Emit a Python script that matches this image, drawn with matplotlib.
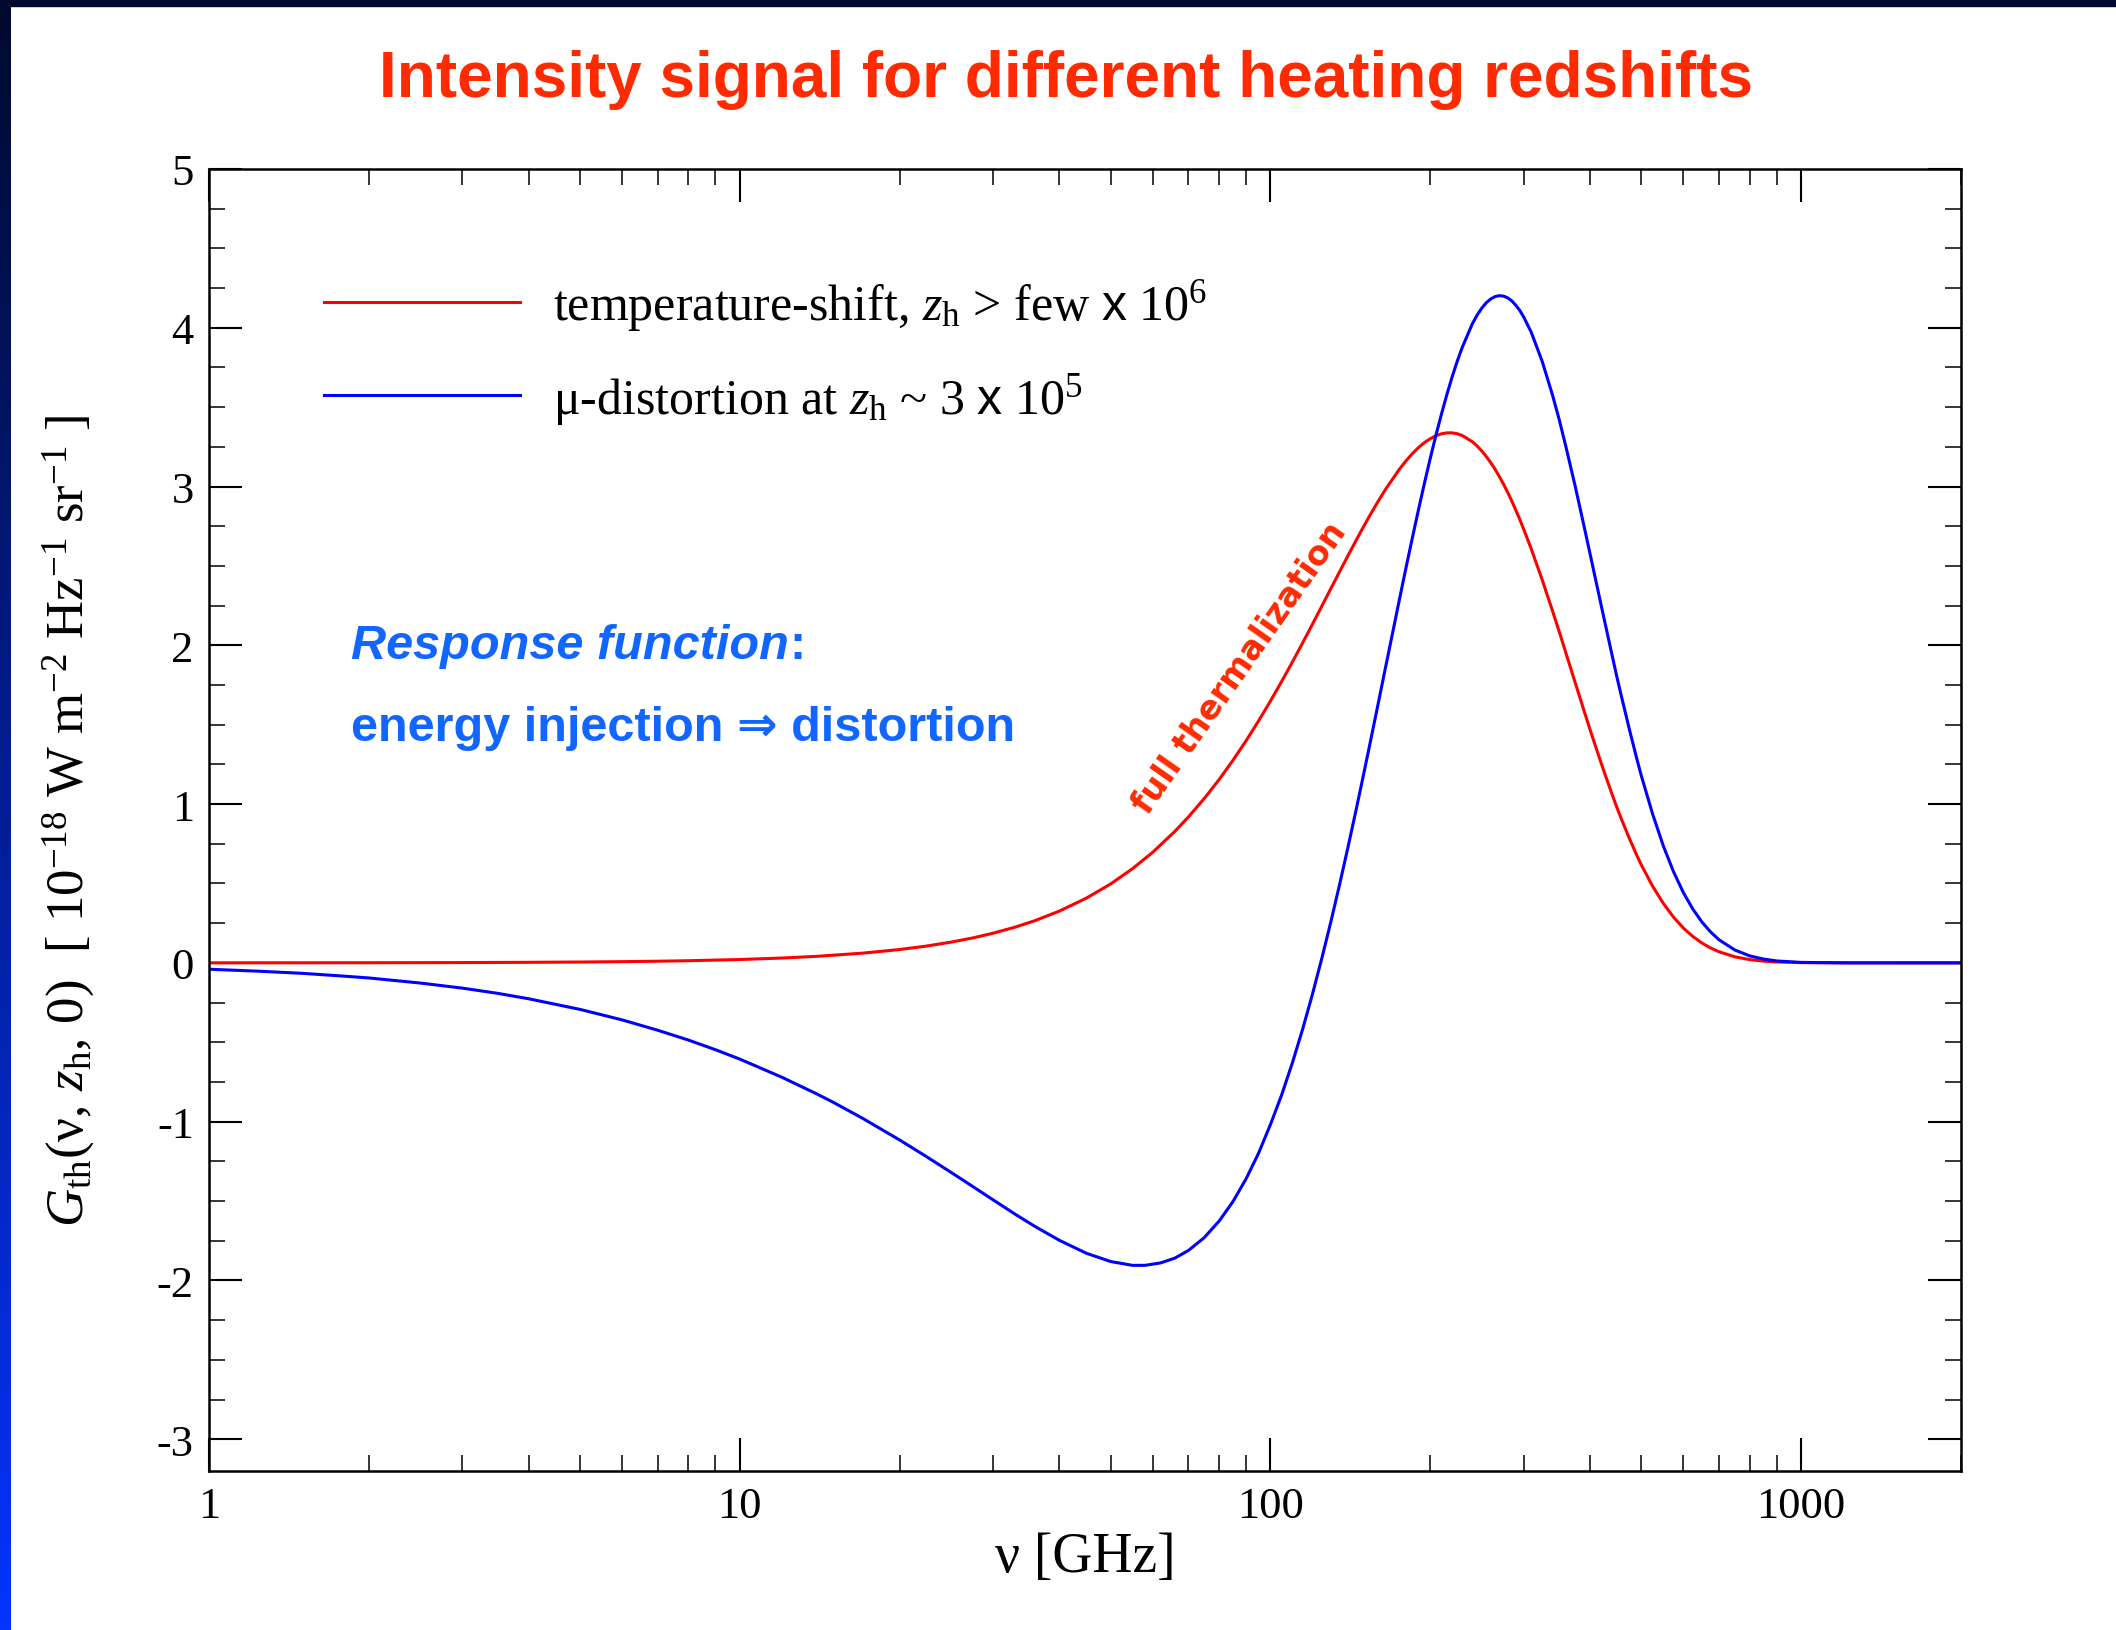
import numpy as np
import matplotlib.pyplot as plt
from matplotlib.ticker import LogLocator, MultipleLocator, NullFormatter
from matplotlib.colors import LinearSegmentedColormap

# FONTS
plt.rcParams['font.family'] = ['Liberation Serif', 'DejaVu Serif']
plt.rcParams['mathtext.fontset'] = 'custom'
plt.rcParams['mathtext.rm'] = 'Liberation Serif'
plt.rcParams['mathtext.it'] = 'Liberation Serif:italic'
plt.rcParams['mathtext.sf'] = 'Liberation Sans'

# DATA
freq_temp = [1, 2, 3, 4, 5, 6, 7, 8, 10, 12, 14, 17, 20, 22.5, 25, 27.5, 30, 33, 36, 40,
             45, 50, 55, 60, 66, 70, 75, 80, 85, 90, 95, 100, 105, 110, 115, 120, 125,
             130, 135, 140, 145, 150, 155, 160, 165, 170, 175, 180, 185, 190, 195, 200,
             205, 210, 215, 220, 225, 230, 240, 245, 250, 255, 260, 265, 270, 275, 280,
             285, 290, 295, 300, 310, 325, 340, 350, 360, 375, 390, 400, 410, 425, 440,
             450, 460, 475, 490, 500, 525, 550, 575, 600, 625, 650, 675, 700, 750, 800,
             850, 900, 1000, 1200, 1500, 2000]
g_temp = [0.0002, 0.0008, 0.0019, 0.0034, 0.0053, 0.0076, 0.0104, 0.0136, 0.0211, 0.0304,
          0.0414, 0.0609, 0.084, 0.106, 0.1305, 0.1573, 0.1866, 0.2247, 0.2659, 0.3258,
          0.4078, 0.4973, 0.594, 0.6965, 0.827, 0.9176, 1.0343, 1.1537, 1.2761, 1.3996,
          1.5243, 1.649, 1.7727, 1.8951, 2.0154, 2.1329, 2.2473, 2.3577, 2.4637, 2.5649,
          2.6604, 2.7512, 2.8355, 2.9132, 2.9855, 3.0481, 3.1094, 3.1613, 3.2063, 3.2447,
          3.2763, 3.301, 3.3198, 3.3319, 3.3379, 3.3379, 3.3321, 3.3208, 3.2822, 3.2561,
          3.2248, 3.190, 3.151, 3.1085, 3.0625, 3.0141, 2.9621, 2.9079, 2.8507, 2.7928,
          2.7319, 2.6079, 2.414, 2.2171, 2.087, 1.9563, 1.767, 1.5864, 1.471, 1.362,
          1.207, 1.0642, 0.975, 0.8938, 0.781, 0.6781, 0.616, 0.4826, 0.374, 0.2873,
          0.219, 0.1662, 0.1253, 0.0938, 0.070, 0.0382, 0.0205, 0.0108, 0.0056, 0.0015,
          0.0001, 0.0, 0.0]

freq_mu = [1, 1.25, 1.5, 1.75, 2, 2.5, 3, 3.5, 4, 5, 6, 7, 8, 9, 10, 12, 14, 15, 17, 20,
           22.5, 25, 27.5, 30, 33, 36, 40, 45, 50, 55, 58, 62, 66, 70, 75, 80, 85, 90, 95,
           100, 105, 110, 115, 120, 125, 130, 135, 140, 145, 150, 155, 160, 165, 170, 175,
           180, 185, 190, 195, 200, 205, 210, 215, 220, 225, 230, 240, 245, 250, 255, 260,
           265, 270, 275, 280, 285, 290, 295, 300, 310, 325, 340, 350, 360, 375, 390, 400,
           410, 425, 440, 450, 460, 475, 490, 500, 525, 550, 575, 600, 625, 650, 675, 700,
           750, 800, 850, 900, 1000, 1200, 1500, 2000]
g_mu = [-0.040, -0.053, -0.066, -0.081, -0.095, -0.127, -0.159, -0.192, -0.226, -0.293,
        -0.359, -0.424, -0.486, -0.547, -0.606, -0.720, -0.827, -0.878, -0.977, -1.115,
        -1.221, -1.319, -1.409, -1.492, -1.582, -1.660, -1.747, -1.829, -1.881, -1.905,
        -1.905, -1.890, -1.860, -1.812, -1.731, -1.627, -1.503, -1.359, -1.198, -1.018,
        -0.831, -0.629, -0.417, -0.197, 0.030, 0.260, 0.494, 0.729, 0.963, 1.196,
        1.426, 1.651, 1.871, 2.082, 2.289, 2.486, 2.673, 2.851, 3.019, 3.176,
        3.322, 3.456, 3.579, 3.691, 3.791, 3.879, 4.023, 4.078, 4.122, 4.157,
        4.181, 4.196, 4.202, 4.199, 4.188, 4.169, 4.141, 4.109, 4.068, 3.972,
        3.790, 3.576, 3.422, 3.257, 3.005, 2.748, 2.579, 2.413, 2.172, 1.942,
        1.795, 1.659, 1.466, 1.287, 1.177, 0.937, 0.736, 0.573, 0.442, 0.339,
        0.258, 0.195, 0.146, 0.081, 0.044, 0.024, 0.012, 0.003, 0.0002, 0.0, 0.0]

xticks = [1, 10, 100, 1000]
xticklabels = ['1', '10', '100', '1000']
yticks = [-3, -2, -1, 0, 1, 2, 3, 4, 5]
yticklabels = ['-3', '-2', '-1', '0', '1', '2', '3', '4', '5']

label_temp = r'temperature-shift, $z_{\rm h}$ > few $\mathsf{x}$ $10^{6}$'
label_mu = r'μ-distortion at $z_{\rm h}$ ~ 3 $\mathsf{x}$ $10^{5}$'

# FIGURE + SLIDE DECORATION
fig = plt.figure(figsize=(21.16, 16.31), dpi=100)
fig.patch.set_facecolor('white')
fig.add_artist(plt.Rectangle((0, 1 - 7/1631), 1, 7/1631, transform=fig.transFigure,
                             color='#000a2e', zorder=0))
gax = fig.add_axes([0, 0, 11/2116, 1 - 7/1631])
cmap = LinearSegmentedColormap.from_list('slide', ['#000a2e', '#0533ff'])
gax.imshow(np.linspace(0, 1, 256).reshape(-1, 1), aspect='auto', cmap=cmap)
gax.axis('off')

# MAIN PLOT
ax = fig.add_axes([0.0988, 0.0975, 0.8279, 0.7983])
ax.plot(freq_temp, g_temp, color='#ff0000', lw=2.2, label=label_temp)
ax.plot(freq_mu, g_mu, color='#0000ff', lw=2.2, label=label_mu)
ax.set_xscale('log')
ax.set_xlim(1, 2000)
ax.set_ylim(-3.2, 5)

ax.set_xticks(xticks, xticklabels)
ax.xaxis.set_minor_locator(LogLocator(base=10, subs=range(2, 10), numticks=20))
ax.xaxis.set_minor_formatter(NullFormatter())
ax.set_yticks(yticks, yticklabels)
ax.yaxis.set_minor_locator(MultipleLocator(0.25))
ax.tick_params(which='both', direction='in', top=True, right=True, labelsize=32)
ax.tick_params(which='major', length=23.8, width=1.5, pad=11)
ax.tick_params(which='minor', length=11.5, width=1.1)
for s in ax.spines.values():
    s.set_linewidth(1.8)

ax.set_xlabel('ν [GHz]', fontsize=40)
ax.xaxis.set_label_coords(0.5, -0.046)
ax.set_ylabel(r'$G_{\rm th}(\mathrm{\nu},\, z_{\rm h},\, 0)$  [ $10^{-18}$ W m$^{-2}$ Hz$^{-1}$ sr$^{-1}$ ]',
              fontsize=38)
ax.yaxis.set_label_coords(-0.064, 0.5)

ax.legend(loc='upper left', bbox_to_anchor=(0.0656, 0.917), frameon=False, fontsize=36,
          handlelength=3.92, handletextpad=0.66, labelspacing=0.75, borderpad=0,
          borderaxespad=0)

ax.text(87.6, 1.86, 'full thermalization', rotation=55, rotation_mode='anchor',
        ha='center', va='center', fontsize=24, fontweight='bold',
        family='DejaVu Sans', color='#ff2a00')

# ANNOTATIONS
blue = '#1166ff'
t1 = fig.text(0.1659, 0.596, 'Response function', fontsize=35, fontweight='bold',
              fontstyle='italic', family='Liberation Sans', color=blue, va='baseline')
fig.canvas.draw()
bb = t1.get_window_extent()
fig.text(bb.x1 / fig.bbox.width, 0.596, ':', fontsize=35, fontweight='bold',
         family='Liberation Sans', color=blue, va='baseline')
fig.text(0.1659, 0.5457, 'energy injection ⇒ distortion', fontsize=35, fontweight='bold',
         family=['Liberation Sans', 'DejaVu Sans'], color=blue, va='baseline')

fig.text(0.5038, 0.9405, 'Intensity signal for different heating redshifts', ha='center',
         va='baseline', fontsize=46, fontweight='bold', family='Liberation Sans',
         color='#ff2a00')

fig.savefig('out.png', dpi=100)
